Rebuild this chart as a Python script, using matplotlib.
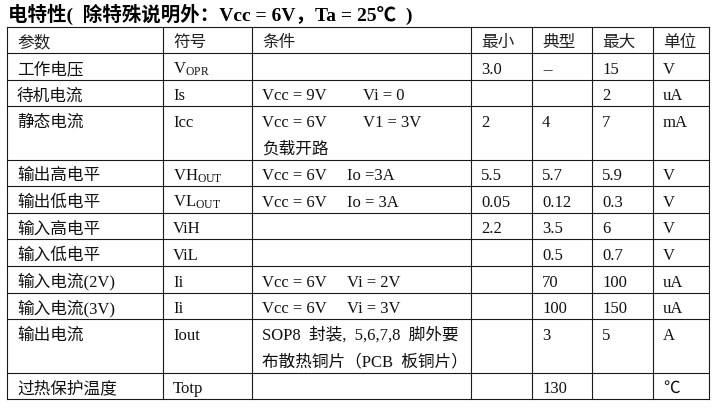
import matplotlib.pyplot as plt

plt.rcParams['font.family'] = ['Liberation Serif', 'Noto Sans CJK SC', 'DejaVu Sans']
plt.rcParams['mathtext.fontset'] = 'custom'
plt.rcParams['mathtext.rm'] = 'Liberation Serif'

title = '电特性(  除特殊说明外：Vcc = 6V，Ta = 25℃  )'
header = ['参数', '符号', '条件', '最小', '典型', '最大', '单位']

params = ['工作电压', '待机电流', '静态电流', '输出高电平', '输出低电平', '输入高电平',
          '输入低电平', '输入电流(2V)', '输入电流(3V)', '输出电流', '过热保护温度']
symbols = [r'V$\mathrm{_{OPR}}$', 'Is', 'Icc', r'VH$\mathrm{_{OUT}}$', r'VL$\mathrm{_{OUT}}$',
           'ViH', 'ViL', 'Ii', 'Ii', 'Iout', 'Totp']
cond_a = ['', 'Vcc = 9V', 'Vcc = 6V', 'Vcc = 6V', 'Vcc = 6V', '', '',
          'Vcc = 6V', 'Vcc = 6V', 'SOP8  封装,  5,6,7,8  脚外要', '']
cond_b = ['', 'Vi = 0', 'V1 = 3V', 'Io =3A', 'Io = 3A', '', '',
          'Vi = 2V', 'Vi = 3V', '', '']
cond_line2 = ['', '', '负载开路', '', '', '', '', '', '', '布散热铜片（PCB  板铜片）', '']
mins = ['3.0', '', '2', '5.5', '0.05', '2.2', '', '', '', '', '']
typs = ['--', '', '4', '5.7', '0.12', '3.5', '0.5', '70', '100', '3', '130']
maxs = ['15', '2', '7', '5.9', '0.3', '6', '0.7', '100', '150', '5', '']
units = ['V', 'uA', 'mA', 'V', 'V', 'V', 'V', 'uA', 'uA', 'A', '℃']
row_lines = [1, 1, 2, 1, 1, 1, 1, 1, 1, 2, 1]

# layout in pixels
col_x = [7, 163, 252, 471, 532, 592, 653, 709]
top = 26.7
unit_h = 26.6
pad = 10
base_off = 20.5
fs = 12

fig = plt.figure(figsize=(7.17, 4.11), dpi=100)
ax = fig.add_axes([0, 0, 1, 1])
ax.set_xlim(0, 717)
ax.set_ylim(411, 0)
ax.axis('off')

ax.text(8, 21, title, fontsize=14, fontweight='bold', va='baseline', ha='left')

# row boundaries
bounds = [top, top + unit_h]
for n in row_lines:
    bounds.append(bounds[-1] + n * unit_h)

lc = '#1a1a1a'
for y in bounds:
    ax.plot([col_x[0], col_x[-1]], [y, y], color=lc, lw=0.8)
for x in col_x:
    ax.plot([x, x], [bounds[0], bounds[-1]], color=lc, lw=0.8)

for j, h in enumerate(header):
    ax.text(col_x[j] + pad, top + base_off, h, fontsize=fs, va='baseline', color='#222')

for i in range(len(params)):
    y0 = bounds[i + 1] + base_off
    cols = [params[i], symbols[i], cond_a[i], mins[i], typs[i], maxs[i], units[i]]
    for j, s in enumerate(cols):
        if s:
            ax.text(col_x[j] + pad, y0, s, fontsize=fs, va='baseline', color='#111')
    if cond_b[i]:
        bx = 363 if i in (1, 2) else 347
        ax.text(bx, y0, cond_b[i], fontsize=fs, va='baseline', color='#111')
    if cond_line2[i]:
        ax.text(col_x[2] + pad, y0 + unit_h, cond_line2[i], fontsize=fs, va='baseline', color='#111')

fig.savefig('out.png', dpi=100)
